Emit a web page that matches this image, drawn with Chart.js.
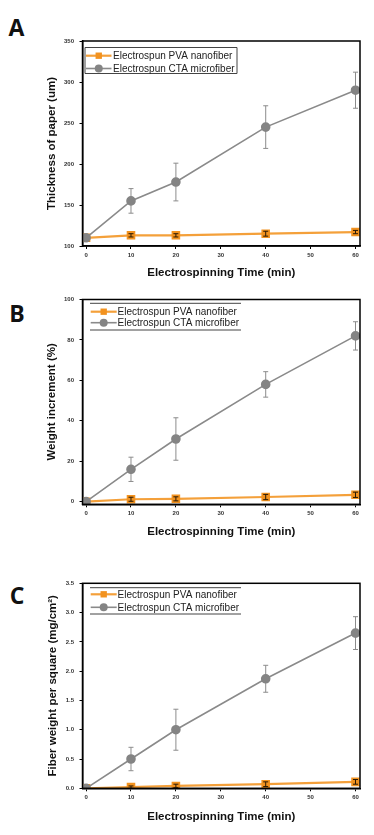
<!DOCTYPE html>
<html>
<head>
<meta charset="utf-8">
<script src="https://cdn.jsdelivr.net/npm/chart.js@4.4.1/dist/chart.umd.min.js"></script>
<style>
  body { margin: 0; background: #fff; width: 374px; height: 835px; position: relative; overflow: hidden; }
  canvas { position: absolute; left: 0; }
  .tag { position: absolute; font: bold 23px 'Open Sans', sans-serif; color: #111; line-height: 1; transform: translate(-50%, -50%); }
</style>
</head>
<body>
<div class="tag" style="left:16.5px;top:26.5px">A</div>
<div class="tag" style="left:17px;top:312.5px">B</div>
<div class="tag" style="left:17px;top:595px">C</div>
<canvas id="chartA" width="374" height="285" style="top:0px"></canvas>
<canvas id="chartB" width="374" height="275" style="top:285px"></canvas>
<canvas id="chartC" width="374" height="275" style="top:560px"></canvas>
<script>
// shared x data
const times = [0, 10, 20, 40, 60];
const timeTicks = [0, 10, 20, 30, 40, 50, 60];
const seriesNames = ['Electrospun PVA nanofiber', 'Electrospun CTA microfiber'];
const xTitle = 'Electrospinning Time (min)';

// A - thickness of paper
const thickTicks = [100, 150, 200, 250, 300, 350];
const thickPVA = [110, 113, 113, 115, 117];
const thickPVAErr = [0, 2, 2, 3, 2];
const thickCTA = [110, 155, 178, 245, 290];
const thickCTAErr = [3, 15, 23, 26, 22];

// B - weight increment
const weightTicks = [0, 20, 40, 60, 80, 100];
const weightPVA = [0, 1.2, 1.4, 2.3, 3.4];
const weightPVAErr = [0, 1, 1, 1.3, 1.3];
const weightCTA = [0, 16, 31, 58, 82];
const weightCTAErr = [0, 6, 10.5, 6.3, 7];

// C - fiber weight per square
const fiberTicks = [0, 0.5, 1.0, 1.5, 2.0, 2.5, 3.0, 3.5];
const fiberPVA = [0, 0.02, 0.04, 0.07, 0.11];
const fiberPVAErr = [0, 0.02, 0.03, 0.04, 0.04];
const fiberCTA = [0, 0.5, 1.0, 1.87, 2.65];
const fiberCTAErr = [0, 0.2, 0.35, 0.23, 0.28];

const FONT = "'Liberation Sans', Arial, sans-serif";
const W = 374;
const TITLE_SIZE = 11.5;
const LH = TITLE_SIZE * 1.2;

const orangeLine = '#F4A03A';
const orangeMark = '#F2921F';
const grayLine = '#8a8a8a';
const grayMark = '#848484';

const panels = [
  {
    id: 'chartA', top: 0, height: 285,
    area: { left: 82.5, right: 360, top: 41, bottom: 246 },
    xTitleY: 273, yTitleX: 52,
    yTitle: 'Thickness of paper (um)', yMin: 100, yMax: 350, yTicks: thickTicks, yDec: 0,
    pva: thickPVA, pvaErr: thickPVAErr, cta: thickCTA, ctaErr: thickCTAErr,
    legend: { frame: 'box', x1: 85, x2: 237, y1: 47.5, y2: 73.5, rows: [55.7, 68.5], lx1: 86, lx2: 111.5, tx: 113 }
  },
  {
    id: 'chartB', top: 285, height: 275,
    area: { left: 82.5, right: 360, top: 299.5 - 285, bottom: 504.3 - 285 },
    xTitleY: 531.7 - 285, yTitleX: 52,
    yTitle: 'Weight increment (%)', yMin: -1.3, yMax: 100, yTicks: weightTicks, yDec: 0,
    pva: weightPVA, pvaErr: weightPVAErr, cta: weightCTA, ctaErr: weightCTAErr,
    legend: { frame: 'lines', x1: 90, x2: 241, y1: 303.3 - 285, y2: 330 - 285, rows: [311.7 - 285, 322.7 - 285], lx1: 90.7, lx2: 116.7, tx: 117.5 }
  },
  {
    id: 'chartC', top: 560, height: 275,
    area: { left: 82.5, right: 360, top: 583.3 - 560, bottom: 788.3 - 560 },
    xTitleY: 816.7 - 560, yTitleX: 52.5,
    yTitle: 'Fiber weight per square (mg/cm²)', yMin: 0, yMax: 3.5, yTicks: fiberTicks, yDec: 1,
    pva: fiberPVA, pvaErr: fiberPVAErr, cta: fiberCTA, ctaErr: fiberCTAErr,
    legend: { frame: 'lines', x1: 90, x2: 241, y1: 587.7 - 560, y2: 614 - 560, rows: [594.3 - 560, 607.3 - 560], lx1: 90.7, lx2: 116.7, tx: 117.5 }
  }
];

function drawMarker(ctx, style, x, y, r, color) {
  ctx.fillStyle = color;
  ctx.beginPath();
  if (style === 'rect') {
    const s = r * Math.SQRT1_2;
    ctx.rect(x - s, y - s, 2 * s, 2 * s);
  } else {
    ctx.arc(x, y, r, 0, Math.PI * 2);
  }
  ctx.fill();
}

// error bars; the ones flagged errOnTop go over the markers
function drawErrors(chart, onTop) {
  const ctx = chart.ctx;
  const xs = chart.scales.x, ys = chart.scales.y;
  ctx.save();
  chart.data.datasets.forEach(ds => {
    if (!ds.errors || !!ds.errOnTop !== onTop) return;
    ctx.strokeStyle = ds.errColor;
    ctx.lineWidth = 1;
    ds.data.forEach((p, i) => {
      const e = ds.errors[i];
      if (!e) return;
      const x = xs.getPixelForValue(p.x);
      const yt = ys.getPixelForValue(p.y + e);
      const yb = ys.getPixelForValue(p.y - e);
      ctx.beginPath();
      ctx.moveTo(x, yt); ctx.lineTo(x, yb);
      ctx.moveTo(x - 2.5, yt); ctx.lineTo(x + 2.5, yt);
      ctx.moveTo(x - 2.5, yb); ctx.lineTo(x + 2.5, yb);
      ctx.stroke();
    });
  });
  ctx.restore();
}

const panelDecor = {
  id: 'panelDecor',
  beforeDatasetsDraw(chart) {
    drawErrors(chart, false);
  },
  afterDatasetsDraw(chart) {
    drawErrors(chart, true);
  },
  afterDraw(chart, args, opts) {
    const ctx = chart.ctx;
    const a = chart.chartArea;
    const lg = opts.legend;
    ctx.save();
    // frame round the plot
    ctx.strokeStyle = '#000';
    ctx.lineWidth = 1.5;
    ctx.strokeRect(a.left, a.top, a.right - a.left, a.bottom - a.top);

    // legend
    ctx.strokeStyle = '#444';
    ctx.lineWidth = 1;
    ctx.beginPath();
    if (lg.frame === 'box') {
      ctx.rect(lg.x1, lg.y1, lg.x2 - lg.x1, lg.y2 - lg.y1);
    } else {
      ctx.moveTo(lg.x1, lg.y1); ctx.lineTo(lg.x2, lg.y1);
      ctx.moveTo(lg.x1, lg.y2); ctx.lineTo(lg.x2, lg.y2);
    }
    ctx.stroke();
    ctx.font = '10px ' + FONT;
    ctx.textBaseline = 'middle';
    ctx.textAlign = 'left';
    chart.data.datasets.forEach((ds, i) => {
      const y = lg.rows[i];
      ctx.strokeStyle = ds.borderColor;
      ctx.lineWidth = ds.borderWidth;
      ctx.beginPath();
      ctx.moveTo(lg.lx1, y); ctx.lineTo(lg.lx2, y);
      ctx.stroke();
      drawMarker(ctx, ds.pointStyle, (lg.lx1 + lg.lx2) / 2, y, ds.pointRadius, ds.pointBackgroundColor);
      ctx.fillStyle = '#222';
      ctx.fillText(ds.label, lg.tx, y + 0.5);
    });
    ctx.restore();
  }
};

function makePanel(p) {
  const xAxisH = p.xTitleY + LH / 2 - p.area.bottom;
  const tickFont = { family: FONT, size: 6, weight: 'bold' };
  const titleFont = { family: FONT, size: TITLE_SIZE, weight: 'bold' };
  const legendLocal = Object.assign({}, p.legend);

  return new Chart(document.getElementById(p.id), {
    type: 'line',
    data: {
      datasets: [
        {
          label: seriesNames[0],
          data: times.map((t, i) => ({ x: t, y: p.pva[i] })),
          errors: p.pvaErr,
          errColor: '#2a1a05',
          errOnTop: true,
          borderColor: orangeLine,
          backgroundColor: orangeMark,
          pointBackgroundColor: orangeMark,
          pointBorderColor: orangeMark,
          pointStyle: 'rect',
          pointRadius: 4.5,
          borderWidth: 2.2,
          order: 1
        },
        {
          label: seriesNames[1],
          data: times.map((t, i) => ({ x: t, y: p.cta[i] })),
          errors: p.ctaErr,
          errColor: '#8c8c8c',
          borderColor: grayLine,
          backgroundColor: grayMark,
          pointBackgroundColor: grayMark,
          pointBorderColor: grayMark,
          pointStyle: 'circle',
          pointRadius: 4,
          borderWidth: 1.6,
          order: 0
        }
      ]
    },
    options: {
      responsive: false,
      animation: false,
      devicePixelRatio: 1,
      layout: {
        padding: {
          left: 0,
          top: p.area.top,
          right: W - p.area.right,
          bottom: p.height - (p.xTitleY + LH / 2)
        }
      },
      plugins: {
        legend: { display: false },
        tooltip: { enabled: false },
        panelDecor: { legend: legendLocal }
      },
      scales: {
        x: {
          type: 'linear',
          min: -0.8,
          max: 61,
          afterBuildTicks: s => { s.ticks = timeTicks.map(v => ({ value: v })); },
          afterFit: s => { s.height = xAxisH; },
          grid: { drawOnChartArea: false, drawTicks: true, tickLength: 3, tickColor: '#000', tickWidth: 1 },
          border: { color: '#000', width: 1.5 },
          ticks: { padding: 2.5, font: tickFont, color: '#333', maxRotation: 0, autoSkip: false },
          title: { display: true, text: xTitle, font: titleFont, color: '#111', padding: 0 }
        },
        y: {
          type: 'linear',
          min: p.yMin,
          max: p.yMax,
          afterBuildTicks: s => { s.ticks = p.yTicks.map(v => ({ value: v })); },
          afterFit: s => { s.width = p.area.left; },
          grid: { drawOnChartArea: false, drawTicks: true, tickLength: 3, tickColor: '#000', tickWidth: 1 },
          border: { color: '#000', width: 1.5 },
          ticks: { padding: 5.5, font: tickFont, color: '#333', autoSkip: false, callback: v => Number(v).toFixed(p.yDec) },
          title: { display: true, text: p.yTitle, font: titleFont, color: '#111', padding: { top: p.yTitleX - LH / 2, bottom: 0 } }
        }
      }
    },
    plugins: [panelDecor]
  });
}

panels.forEach(makePanel);
</script>
</body>
</html>
